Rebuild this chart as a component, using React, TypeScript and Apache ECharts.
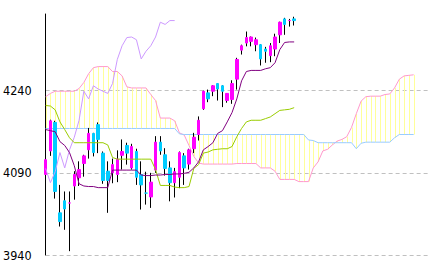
import React, { useEffect, useRef } from "react";
import * as echarts from "echarts";

// x slots: 53 trading days + 25 days of projected cloud + margin
const categories = Array.from({ length: 81 }, (_, i) => `D${i + 1}`);

const opens = [4087,4130,4182,4017,4039,4035,4066,4081,4107,4132,4162,4178,4126,4093,4090,4087,4122,4140,4099,4129,4087,4053,4046,4095,4146,4123,4099,4072,4082,4121,4106,4134,4160,4207,4236,4239,4253,4249,4222,4224,4261,4314,4327,4330,4324,4324,4316,4304,4316,4342,4371,4368,4371];
const closes = [4114,4185,4056,4001,4024,4035,4087,4096,4121,4162,4127,4151,4076,4076,4105,4115,4129,4126,4138,4082,4068,4053,4073,4146,4130,4098,4072,4092,4127,4099,4132,4155,4186,4239,4225,4249,4243,4239,4235,4253,4297,4322,4337,4338,4333,4298,4312,4322,4338,4365,4361,4368,4368];
const lows = [4081,4121,4043,3992,3986,3947,4041,4066,4083,4116,4120,4126,4070,4017,4071,4073,4096,4105,4096,4068,4023,4032,4026,4090,4123,4085,4038,4045,4062,4068,4096,4126,4149,4205,4219,4230,4222,4210,4218,4216,4242,4306,4321,4321,4312,4286,4291,4292,4303,4327,4342,4357,4359];
const highs = [4118,4187,4185,4068,4056,4056,4093,4111,4123,4172,4163,4182,4129,4111,4116,4131,4151,4145,4143,4134,4111,4092,4090,4157,4157,4135,4111,4099,4129,4126,4134,4163,4193,4240,4242,4250,4254,4250,4235,4259,4300,4324,4348,4339,4337,4325,4320,4327,4344,4366,4373,4371,4375];

// 転換線 (conversion line)
const tenkan = [4169,4167,4165,4147,4140,4127,4103,4070,4066,4065,4065,4063,4063,4063,4095,4095,4095,4095,4095,4095,4086,4085,4085,4086,4086,4087,4087,4088,4088,4089,4091,4099,4110,4132,4138,4145,4162,4167,4183,4200,4225,4258,4275,4277,4277,4277,4280,4282,4291,4315,4328,4329,4329];
// 基準線 (base line)
const kijun = [4213,4212,4205,4183,4169,4154,4145,4145,4145,4145,4145,4145,4145,4141,4118,4115,4115,4115,4115,4115,4115,4115,4115,4096,4067,4067,4067,4064,4063,4063,4065,4098,4105,4126,4128,4132,4133,4134,4134,4138,4156,4171,4183,4186,4186,4186,4189,4192,4198,4204,4205,4206,4209];
// 先行スパン1
const senkouA = [4229,4235,4239,4239,4239,4239,4239,4244,4255,4271,4282,4284,4284,4284,4275,4275,4267,4247,4245,4245,4245,4245,4233,4222,4190,4190,4190,4185,4163,4159,4140,4120,4108,4106,4106,4106,4106,4106,4106,4106,4107,4107,4107,4107,4107,4099,4099,4099,4093,4078,4078,4078,4078,4074,4074,4074,4099,4110,4130,4133,4141,4148,4151,4156,4173,4198,4221,4229,4230,4230,4230,4233,4234,4245,4261,4267,4268,4269];
// 先行スパン2
const senkouB = [4171,4171,4171,4171,4171,4171,4171,4171,4171,4171,4171,4171,4171,4171,4171,4171,4171,4171,4171,4171,4171,4171,4171,4171,4171,4171,4171,4171,4161,4160,4160,4160,4160,4160,4160,4160,4160,4160,4160,4160,4160,4160,4160,4160,4160,4160,4160,4160,4160,4160,4160,4160,4160,4160,4160,4150,4149,4145,4145,4145,4145,4145,4145,4145,4145,4134,4144,4146,4146,4146,4146,4146,4146,4154,4160,4160,4160,4160];
// 遅行スパン (lagging span)
const chikou = [4098,4072,4092,4127,4099,4132,4155,4186,4239,4225,4249,4243,4239,4235,4253,4297,4322,4337,4338,4333,4298,4312,4322,4338,4365,4361,4368,4368];

const yTicks = { min: 3940, max: 4380, step: 150 };

export default function App() {
  const ref = useRef<HTMLDivElement>(null);
  useEffect(() => {
    document.body.style.margin = "0";
    const chart = echarts.init(ref.current!, null, { renderer: "svg" });
    const wickData = opens.map((o, i) => [o, closes[i], lows[i], highs[i]]);
    const bodyData = opens.map((o, i) => [o, closes[i], Math.min(o, closes[i]), Math.max(o, closes[i])]);
    const cloudData = senkouA.map((a, i) => [i, a, senkouB[i]]);
    chart.setOption({
      animation: false,
      backgroundColor: "#ffffff",
      grid: { left: 45, right: 5, top: 14, bottom: 14 },
      xAxis: {
        type: "category",
        data: categories,
        boundaryGap: false,
        axisLine: { show: false },
        axisTick: { show: false },
        axisLabel: { show: false },
        splitLine: { show: false },
      },
      yAxis: {
        type: "value",
        min: yTicks.min,
        max: yTicks.max,
        interval: yTicks.step,
        axisLine: { show: true, lineStyle: { color: "#000000", width: 1 } },
        axisTick: { show: false },
        axisLabel: {
          color: "#000000",
          fontSize: 12.5,
          fontFamily: "'Liberation Sans Narrow', 'DejaVu Sans Condensed', 'DejaVu Sans Mono', monospace",
          margin: 14,
          showMaxLabel: false,
          formatter: (v: number) => String(v),
        },
        splitLine: {
          show: true,
          showMaxLine: false,
          lineStyle: { color: "#c0c0c0", type: [4, 3], width: 1 },
        },
      },
      series: [
        {
          type: "custom",
          name: "cloud",
          data: cloudData,
          encode: { x: 0, y: [1, 2] },
          silent: true,
          z: 1,
          renderItem: (params: any, api: any) => {
            const i = api.value(0);
            const p1 = api.coord([i, api.value(1)]);
            const p2 = api.coord([i, api.value(2)]);
            const x = Math.round(p1[0]) + 0.5;
            return {
              type: "line",
              shape: { x1: x, y1: p1[1], x2: x, y2: p2[1] },
              style: { stroke: "#ffff99", lineWidth: 1 },
            };
          },
        },
        {
          type: "line",
          name: "senkouA",
          data: senkouA,
          symbol: "none",
          z: 2,
          lineStyle: { color: "#ff99cc", width: 1 },
        },
        {
          type: "line",
          name: "senkouB",
          data: senkouB,
          symbol: "none",
          z: 2,
          lineStyle: { color: "#99ccff", width: 1 },
        },
        {
          type: "candlestick",
          name: "wick",
          data: wickData,
          barWidth: 1,
          z: 3,
          itemStyle: {
            color: "#000000",
            color0: "#000000",
            borderColor: "#000000",
            borderColor0: "#000000",
            borderWidth: 1,
          },
        },
        {
          type: "candlestick",
          name: "body",
          data: bodyData,
          barWidth: 3,
          z: 4,
          itemStyle: {
            color: "#ff00ff",
            color0: "#00ccff",
            borderColor: "#ff00ff",
            borderColor0: "#00ccff",
            borderWidth: 1,
          },
        },
        {
          type: "line",
          name: "chikou",
          data: chikou,
          symbol: "none",
          z: 5,
          lineStyle: { color: "#cc99ff", width: 1 },
        },
        {
          type: "line",
          name: "kijun",
          data: kijun,
          symbol: "none",
          z: 5,
          lineStyle: { color: "#99cc00", width: 1 },
        },
        {
          type: "line",
          name: "tenkan",
          data: tenkan,
          symbol: "none",
          z: 5,
          lineStyle: { color: "#800080", width: 1 },
        },
      ],
    });
    return () => chart.dispose();
  }, []);
  return <div ref={ref} style={{ width: 433, height: 269, background: "#fff" }} />;
}
